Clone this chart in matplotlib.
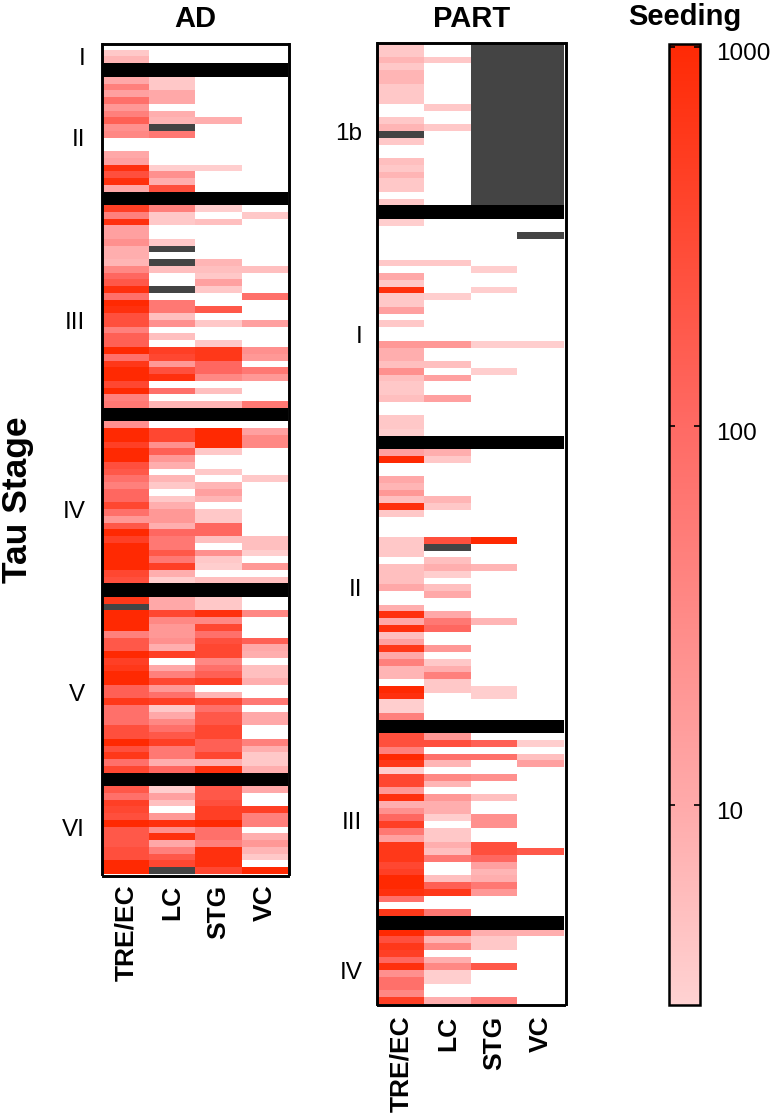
from matplotlib import pyplot as plt
from matplotlib.colors import LinearSegmentedColormap, LogNorm
from matplotlib.transforms import ScaledTranslation
import numpy as np

plt.rcParams['font.family'] = ['Liberation Sans', 'DejaVu Sans']

X = float("nan")  # not measured, dark grey
regions = ["TRE/EC", "LC", "STG", "VC"]
cbar_ticks = [10, 100, 1000]
cbar_tick_labels = ["10", "100", "1000"]

# rows are one case each, columns follow regions, 0 = no seeding
ad_i = [[0, 0, 0, 0], [4, 0, 0, 0], [7, 0, 0, 0]]
ad_ii = [
    [10.5, 4, 0, 0], [45, 4, 0, 0], [14, 10.5, 0, 0], [80, 10.5, 0, 0],
    [19, 0, 0, 0], [45, 8.8, 0, 0], [143, 7, 8.8, 0], [25, X, 0, 0],
    [34, 60, 0, 0], [0, 0, 0, 0], [0, 0, 0, 0], [10.5, 0, 0, 0],
    [14, 0, 0, 0], [800, 3.3, 3.3, 0], [255, 25, 0, 0], [800, 8.8, 0, 0],
    [10.5, 255, 0, 0],
]
ad_iii = [
    [450, 45, 3.3, 0], [45, 4, 0, 4], [800, 4, 5.3, 0], [14, 0, 0, 0],
    [14, 0, 0, 0], [25, 4, 0, 0], [8.8, X, 0, 0], [8.8, 0, 0, 0],
    [7, X, 7, 0], [34, 5.3, 5.3, 5.3], [110, 0, 4, 0], [190, 0, 14, 0],
    [800, X, 4, 0], [80, 0, 0, 80], [1000, 60, 0, 0], [800, 60, 190, 0],
    [255, 5.3, 0, 0], [255, 25, 4, 14], [45, 0, 0, 0], [143, 5.3, 0, 0],
    [143, 0, 4, 0], [1000, 450, 600, 25], [80, 340, 600, 19], [600, 19, 110, 0],
    [1000, 255, 110, 60], [1000, 800, 34, 19], [340, 0, 0, 0], [1000, 80, 5.3, 0],
    [45, 0, 0, 0], [60, 7, 7, 60],
]
ad_iv = [
    [25, 0, 0, 0], [1000, 340, 1000, 14], [1000, 340, 1000, 34], [450, 25, 1000, 34],
    [1000, 143, 4, 0], [1000, 19, 0, 0], [255, 8.8, 0, 0], [190, 0, 4, 0],
    [80, 7, 0, 4], [45, 4, 7, 0], [110, 0, 14, 0], [110, 4, 7, 0],
    [340, 8.8, 0, 0], [80, 19, 4, 0], [19, 19, 4, 0], [190, 8.8, 110, 0],
    [1000, 110, 110, 0], [450, 60, 5.3, 5.3], [1000, 60, 0, 5.3], [1000, 190, 25, 3.3],
    [1000, 60, 4, 0], [1000, 450, 3.3, 19], [340, 8.8, 0, 0], [255, 3.3, 5.3, 5.3],
]
ad_v = [
    [600, 10.5, 4, 0], [X, 10.5, 4, 0], [1000, 340, 800, 34], [1000, 34, 34, 0],
    [1000, 19, 340, 0], [45, 19, 80, 0], [190, 25, 255, 143], [190, 8.8, 340, 10.5],
    [1000, 450, 340, 8.8], [450, 0, 34, 0], [600, 10.5, 80, 5.3], [1000, 45, 143, 5.3],
    [1000, 340, 450, 8.8], [143, 19, 0, 0], [143, 80, 7, 0], [600, 450, 340, 60],
    [80, 4, 80, 0], [80, 10.5, 190, 10.5], [80, 34, 190, 10.5], [255, 80, 340, 0],
    [255, 190, 340, 0], [1000, 450, 143, 45], [255, 60, 143, 8.8], [600, 60, 340, 4],
    [80, 8.8, 8.8, 4], [340, 110, 800, 8.8],
]
ad_vi = [
    [190, 3.3, 190, 10.5], [80, 14, 190, 0], [450, 5.3, 255, 0], [340, 0, 450, 450],
    [255, 19, 450, 45], [1000, 800, 1000, 45], [190, 25, 80, 0], [190, 800, 80, 8.8],
    [190, 10.5, 45, 19], [255, 45, 800, 7], [255, 190, 800, 4], [1000, 340, 800, 0],
    [1000, X, 340, 1000],
]

part_1b = [
    [4, 0, X, X], [4, 0, X, X], [7, 4, X, X], [4, 0, X, X],
    [7, 0, X, X], [7, 0, X, X], [4, 0, X, X], [4, 0, X, X],
    [4, 0, X, X], [0, 4, X, X], [0, 0, X, X], [4, 0, X, X],
    [7, 4, X, X], [X, 0, X, X], [4, 0, X, X], [0, 0, X, X],
    [0, 0, X, X], [5.3, 0, X, X], [4, 0, X, X], [7, 0, X, X],
    [4, 0, X, X], [4, 0, X, X], [0, 0, X, X], [4, 0, X, X],
]
part_i = [
    [3.3, 0, 0, 0], [0, 0, 0, 0], [0, 0, 0, X], [0, 0, 0, 0],
    [0, 0, 0, 0], [0, 0, 0, 0], [4, 4, 0, 0], [0, 0, 3.3, 0],
    [10.5, 0, 0, 0], [4, 0, 0, 0], [800, 0, 3.3, 0], [4, 3.3, 0, 0],
    [4, 0, 0, 0], [14, 0, 0, 0], [0, 0, 0, 0], [4, 0, 0, 0],
    [0, 0, 0, 0], [0, 0, 0, 0], [19, 19, 3.3, 3.3], [8.8, 0, 0, 0],
    [8.8, 0, 0, 0], [5.3, 5.3, 0, 0], [25, 0, 3.3, 0], [5.3, 14, 0, 0],
    [4, 0, 0, 0], [4, 0, 0, 0], [5.3, 14, 0, 0], [0, 0, 0, 0],
    [0, 0, 0, 0], [4, 0, 0, 0], [4, 0, 0, 0], [3.3, 0, 0, 0],
]
part_ii = [
    [14, 8.8, 0, 0], [1000, 4, 0, 0], [0, 0, 0, 0], [0, 0, 0, 0],
    [10.5, 0, 0, 0], [7, 0, 0, 0], [19, 0, 0, 0], [5.3, 7, 0, 0],
    [800, 4, 0, 0], [4, 0, 0, 0], [0, 0, 0, 0], [0, 0, 0, 0],
    [0, 0, 0, 0], [4, 255, 1000, 0], [4, X, 0, 0], [4, 0, 0, 0],
    [0, 5.3, 0, 0], [5.3, 8.8, 7, 0], [5.3, 3.3, 0, 0], [5.3, 0, 0, 0],
    [10.5, 5.3, 0, 0], [0, 10.5, 0, 0], [0, 0, 0, 0], [8.8, 0, 0, 0],
    [800, 10.5, 0, 0], [10.5, 60, 7, 0], [800, 110, 0, 0], [5.3, 0, 0, 0],
    [14, 0, 0, 0], [600, 19, 0, 0], [10.5, 0, 0, 0], [45, 4, 0, 0],
    [7, 8.8, 0, 0], [7, 45, 0, 0], [0, 4, 0, 0], [1000, 4, 3.3, 0],
    [800, 0, 3.3, 0], [3.3, 0, 0, 0], [3.3, 0, 0, 0], [45, 0, 0, 0],
]
part_iii = [
    [255, 19, 0, 0], [255, 255, 143, 3.3], [45, 0, 0, 0], [1000, 80, 80, 5.3],
    [600, 7, 0, 14], [3.3, 0, 0, 0], [340, 34, 25, 0], [340, 7, 0, 0],
    [19, 0, 0, 0], [800, 19, 5.3, 0], [8.8, 8.8, 0, 0], [25, 8.8, 0, 0],
    [110, 3.3, 25, 0], [450, 0, 25, 0], [60, 4, 0, 0], [14, 4, 0, 0],
    [600, 8.8, 255, 0], [600, 5.3, 255, 190], [600, 60, 110, 0], [340, 0, 14, 0],
    [450, 0, 7, 0], [1000, 5.3, 8.8, 0], [1000, 143, 60, 0], [800, 600, 19, 0],
    [80, 0, 0, 0], [0, 0, 0, 0], [600, 60, 0, 0],
]
part_iv = [
    [1000, 190, 8.8, 8.8], [255, 7, 4, 0], [600, 34, 4, 0], [450, 0, 0, 0],
    [110, 8.8, 0, 0], [800, 34, 190, 0], [25, 3.3, 0, 0], [80, 3.3, 0, 0],
    [80, 0, 0, 0], [34, 0, 0, 0], [450, 8.8, 45, 0],
]

SEP = 1e6  # above the scale, drawn black
VMIN, VMAX = 2.97, 1021
FIG_W, FIG_H = 774, 1114


def stack_stages(stages):
    rows = []
    for n, stage in enumerate(stages):
        if n > 0:
            rows += [[SEP] * 4, [SEP] * 4]
        rows += stage
    arr = np.array(rows, dtype=float)
    arr[arr == 0] = 1  # below vmin, drawn white
    return arr


def make_axes(fig, left, top, right, bottom):
    return fig.add_axes([left / FIG_W, 1 - bottom / FIG_H,
                         (right - left) / FIG_W, (bottom - top) / FIG_H])


def draw_panel(fig, box, stages, title, label_rows, labels, ypad, xpad):
    ax = make_axes(fig, *box)
    # set_position resets the ticks, so it has to come before them
    for side in ["left", "right", "bottom"]:
        ax.spines[side].set_position(("outward", 1))
    for spine in ax.spines.values():
        spine.set_linewidth(2.1)
    im = ax.imshow(stack_stages(stages), aspect="auto", cmap=cmap, norm=norm,
                   interpolation="nearest")
    ax.set_xticks(range(4), regions, rotation=90, fontweight="bold", fontsize=19)
    ax.set_yticks([r - 0.5 for r in label_rows], labels, fontsize=17.5)
    ax.tick_params(axis="x", length=0, pad=xpad)
    ax.tick_params(axis="y", length=0, pad=ypad)
    ax.set_title(title, fontweight="bold", fontsize=21, pad=12)
    return im


# anchors
log_span = np.log10(VMAX / VMIN)
anchors = [(0, "#ffd2d2"),
           (np.log10(10 / VMIN) / log_span, "#ffaaaa"),
           (np.log10(100 / VMIN) / log_span, "#ff6a64"),
           (np.log10(1000 / VMIN) / log_span, "#ff2a05"),
           (1, "#ff2800")]
cmap = LinearSegmentedColormap.from_list("seeding", anchors, N=512)
cmap.set_bad("#444444")
cmap.set_under("white")
cmap.set_over("black")
norm = LogNorm(vmin=VMIN, vmax=VMAX)

fig = plt.figure(figsize=(7.74, 11.14), dpi=100)

im = draw_panel(fig, (103.3, 44, 287.7, 874.3),
                [ad_i, ad_ii, ad_iii, ad_iv, ad_v, ad_vi], "AD",
                [1.8, 13.9, 40.9, 68.9, 96.1, 116],
                ["I", "II", "III", "IV", "V", "VI"], 12, 6.3)
draw_panel(fig, (378.3, 43.3, 564.3, 1004),
           [part_1b, part_i, part_ii, part_iii, part_iv], "PART",
           [13.1, 43.1, 80.5, 114.9, 137.1],
           ["1b", "I", "II", "III", "IV"], 10.5, 7.2)

cax = make_axes(fig, 669, 43.5, 700.4, 1005)
cb = fig.colorbar(im, cax=cax)
cb.set_ticks(cbar_ticks, labels=cbar_tick_labels)
cax.minorticks_off()
cax.tick_params(axis="y", direction="in", left=True, right=True, length=4.5,
                width=1.2, pad=11, labelsize=17.5)
# labels sit a little below their ticks
shift = ScaledTranslation(0, -5 / 100, fig.dpi_scale_trans)
for label in cax.get_yticklabels():
    label.set_transform(label.get_transform() + shift)
cb.outline.set_linewidth(1.8)
cax.set_title("Seeding", fontweight="bold", fontsize=21, pad=13)

fig.text(17 / FIG_W, 1 - 500 / FIG_H, "Tau Stage", rotation=90, fontweight="bold",
         fontsize=25.5, ha="center", va="center")

fig.savefig("out.png", dpi=100)
